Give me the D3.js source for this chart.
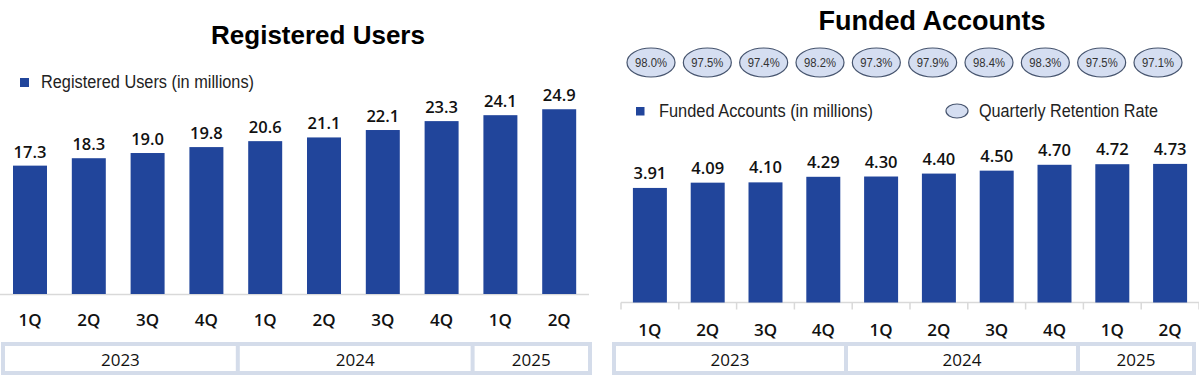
<!DOCTYPE html>
<html>
<head>
<meta charset="utf-8">
<script src="https://cdn.jsdelivr.net/npm/d3@7"></script>
<style>
  html, body { margin: 0; padding: 0; background: #ffffff; }
  svg { display: block; }
</style>
</head>
<body>
<svg id="chart" width="1199" height="379"></svg>
<script>
// ---------- data ----------
const quarters = ["1Q","2Q","3Q","4Q","1Q","2Q","3Q","4Q","1Q","2Q"];
const yearLabels = ["2023","2024","2025"];
const yearSpans = [4, 4, 2];
const registeredUsers = [17.3, 18.3, 19.0, 19.8, 20.6, 21.1, 22.1, 23.3, 24.1, 24.9];
const fundedAccounts = [3.91, 4.09, 4.10, 4.29, 4.30, 4.40, 4.50, 4.70, 4.72, 4.73];
const retentionRate = [98.0, 97.5, 97.4, 98.2, 97.3, 97.9, 98.4, 98.3, 97.5, 97.1];
const leftTitle = "Registered Users";
const rightTitle = "Funded Accounts";
const leftLegend = "Registered Users (in millions)";
const rightLegend1 = "Funded Accounts (in millions)";
const rightLegend2 = "Quarterly Retention Rate";

// ---------- styles ----------
const BAR = "#21459b";
const AXIS = "#d9d9d9";
const TABLE_BORDER = "#d4dcea";
const ELL_FILL = "#d5def1";
const ELL_STROKE = "#46546e";
const NUMFONT = "'Open Sans', 'DejaVu Sans', sans-serif";
const SANS = "'Liberation Sans', Arial, sans-serif";

const svg = d3.select("#chart");
const idx = d3.range(quarters.length);

function yearTable(g, x0, x1, yTop, yBot) {
  const total = d3.sum(yearSpans);
  const s = d3.scaleLinear().domain([0, total]).range([x0 + 2, x1 - 2]);
  g.append("rect").attr("x", x0).attr("y", yTop).attr("width", x1 - x0).attr("height", yBot - yTop)
    .attr("fill", TABLE_BORDER);
  const starts = d3.cumsum([0].concat(yearSpans.slice(0, -1)));
  yearLabels.forEach((lab, i) => {
    const a = s(starts[i]) + 2, b = s(starts[i] + yearSpans[i]) - 2;
    g.append("rect").attr("x", a).attr("y", yTop + 4).attr("width", b - a).attr("height", yBot - yTop - 8)
      .attr("fill", "#ffffff");
    g.append("text").attr("x", (a + b) / 2).attr("y", (yTop + yBot) / 2 + 1)
      .attr("text-anchor", "middle").attr("dominant-baseline", "central")
      .attr("font-family", NUMFONT).attr("font-size", 17).attr("font-weight", 500)
      .attr("fill", "#111").text(lab);
  });
}

// ---------- LEFT: Registered Users ----------
{
  const g = svg.append("g");
  const base = 294;
  const x = d3.scaleBand().domain(idx).range([0.6, 588.6]).paddingInner(0.422).paddingOuter(0.211);
  const y = d3.scaleLinear().domain([0, 25]).range([base, base - 7.42 * 25]);

  g.append("text").attr("x", 318).attr("y", 44).attr("text-anchor", "middle")
    .attr("font-family", SANS).attr("font-weight", 700).attr("font-size", 26).attr("fill", "#000")
    .text(leftTitle);

  g.append("rect").attr("x", 20).attr("y", 78).attr("width", 9).attr("height", 9).attr("fill", BAR);
  g.append("text").attr("x", 41).attr("y", 82).attr("dominant-baseline", "central")
    .attr("font-family", SANS).attr("font-size", 17.5).attr("fill", "#222")
    .attr("textLength", 213).attr("lengthAdjust", "spacingAndGlyphs").text(leftLegend);

  g.append("line").attr("x1", 0).attr("x2", 589).attr("y1", base + 0.5).attr("y2", base + 0.5)
    .attr("stroke", AXIS).attr("stroke-width", 1.5);

  g.selectAll("rect.bar").data(registeredUsers).join("rect").attr("class", "bar")
    .attr("x", (d, i) => x(i)).attr("width", x.bandwidth())
    .attr("y", d => y(d)).attr("height", d => base - y(d)).attr("fill", BAR);

  g.selectAll("text.val").data(registeredUsers).join("text").attr("class", "val")
    .attr("x", (d, i) => x(i) + x.bandwidth() / 2).attr("y", d => y(d) - 8)
    .attr("text-anchor", "middle").attr("font-family", NUMFONT).attr("font-size", 16.5)
    .attr("font-weight", 550).attr("fill", "#111").text(d => d.toFixed(1));

  g.selectAll("text.q").data(quarters).join("text").attr("class", "q")
    .attr("x", (d, i) => x(i) + x.bandwidth() / 2).attr("y", 326)
    .attr("text-anchor", "middle").attr("font-family", NUMFONT).attr("font-size", 17)
    .attr("font-weight", 550).attr("fill", "#111").text(d => d);

  yearTable(g, 1, 592, 342, 375);
}

// ---------- RIGHT: Funded Accounts ----------
{
  const g = svg.append("g");
  const base = 302.5;
  const x = d3.scaleBand().domain(idx).range([621, 1199]).paddingInner(0.412).paddingOuter(0.206);
  const y = d3.scaleLinear().domain([0, 5]).range([base, base - 29.3 * 5]);
  const xe = d3.scalePoint().domain(idx).range([651, 1158]);

  g.append("text").attr("x", 932).attr("y", 30).attr("text-anchor", "middle")
    .attr("font-family", SANS).attr("font-weight", 700).attr("font-size", 27).attr("fill", "#000")
    .text(rightTitle);

  const eg = g.selectAll("g.ell").data(retentionRate).join("g").attr("class", "ell")
    .attr("transform", (d, i) => `translate(${xe(i)},62.5)`);
  eg.append("ellipse").attr("rx", 24).attr("ry", 14.5)
    .attr("fill", ELL_FILL).attr("stroke", ELL_STROKE).attr("stroke-width", 1.2);
  eg.append("text").attr("text-anchor", "middle").attr("dominant-baseline", "central")
    .attr("font-family", SANS).attr("font-size", 12.5).attr("fill", "#333")
    .attr("textLength", 32).attr("lengthAdjust", "spacingAndGlyphs")
    .text(d => d.toFixed(1) + "%");

  g.append("rect").attr("x", 636).attr("y", 107).attr("width", 8.5).attr("height", 8.5).attr("fill", BAR);
  g.append("text").attr("x", 659).attr("y", 111).attr("dominant-baseline", "central")
    .attr("font-family", SANS).attr("font-size", 17.5).attr("fill", "#222")
    .attr("textLength", 214).attr("lengthAdjust", "spacingAndGlyphs").text(rightLegend1);
  g.append("ellipse").attr("cx", 957).attr("cy", 111).attr("rx", 11).attr("ry", 7)
    .attr("fill", ELL_FILL).attr("stroke", ELL_STROKE).attr("stroke-width", 1.2);
  g.append("text").attr("x", 979).attr("y", 111).attr("dominant-baseline", "central")
    .attr("font-family", SANS).attr("font-size", 17.5).attr("fill", "#222")
    .attr("textLength", 179).attr("lengthAdjust", "spacingAndGlyphs").text(rightLegend2);

  // axis baseline with ticks at category boundaries
  const r0 = x.range()[0];
  g.append("line").attr("x1", r0).attr("x2", x.range()[1]).attr("y1", base).attr("y2", base)
    .attr("stroke", AXIS).attr("stroke-width", 1.5);
  g.selectAll("line.tick").data(d3.range(quarters.length + 1)).join("line").attr("class", "tick")
    .attr("x1", i => r0 + i * x.step()).attr("x2", i => r0 + i * x.step())
    .attr("y1", base).attr("y2", base + 7).attr("stroke", AXIS).attr("stroke-width", 1.5);

  g.selectAll("rect.bar").data(fundedAccounts).join("rect").attr("class", "bar")
    .attr("x", (d, i) => x(i)).attr("width", x.bandwidth())
    .attr("y", d => y(d)).attr("height", d => base - y(d)).attr("fill", BAR);

  g.selectAll("text.val").data(fundedAccounts).join("text").attr("class", "val")
    .attr("x", (d, i) => x(i) + x.bandwidth() / 2).attr("y", d => y(d) - 9)
    .attr("text-anchor", "middle").attr("font-family", NUMFONT).attr("font-size", 16.5)
    .attr("font-weight", 550).attr("fill", "#111").text(d => d.toFixed(2));

  g.selectAll("text.q").data(quarters).join("text").attr("class", "q")
    .attr("x", (d, i) => x(i) + x.bandwidth() / 2).attr("y", 336)
    .attr("text-anchor", "middle").attr("font-family", NUMFONT).attr("font-size", 17)
    .attr("font-weight", 550).attr("fill", "#111").text(d => d);

  yearTable(g, 612, 1196, 342, 375);
}
</script>
</body>
</html>
